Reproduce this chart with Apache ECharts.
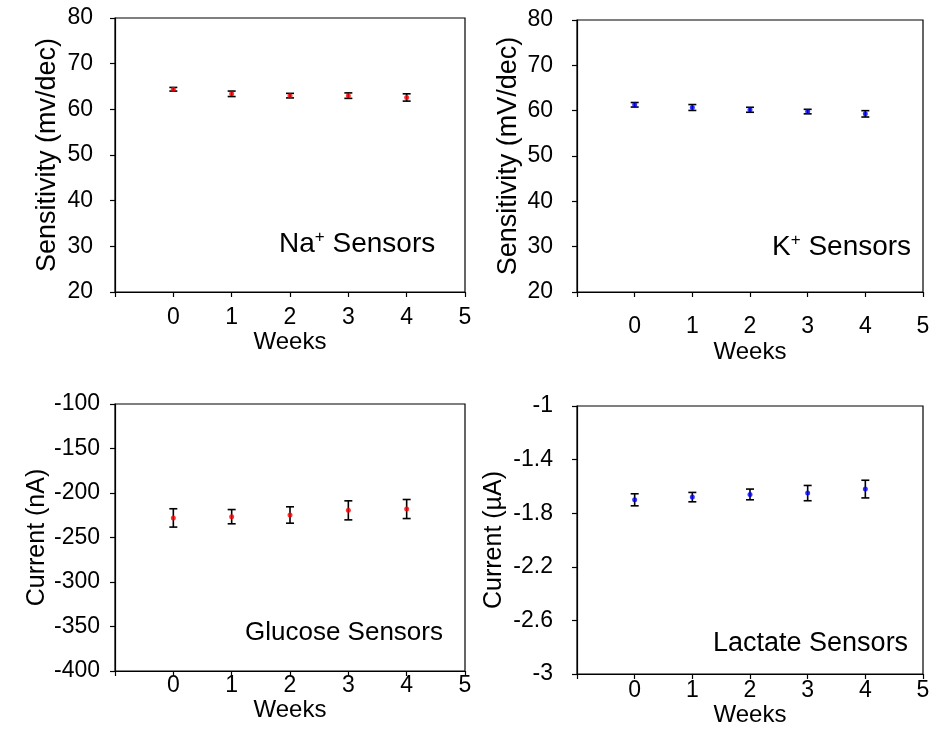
<!DOCTYPE html>
<html>
<head>
<meta charset="utf-8">
<script src="https://cdn.jsdelivr.net/npm/echarts@6/dist/echarts.min.js"></script>
<style>
  html, body { margin: 0; padding: 0; background: #fff; }
  #chart { width: 933px; height: 745px; }
</style>
</head>
<body>
<div id="chart"></div>
<script>
// Sensor stability over four weeks: mean response with standard-deviation bars
const weeks = [0, 1, 2, 3, 4];
const weekTicks = ['0', '1', '2', '3', '4', '5'];

const naMean = [64.4, 63.4, 63.0, 63.0, 62.6];
const naErr = [0.4, 0.6, 0.5, 0.6, 0.8];

const kMean = [61.3, 60.7, 60.2, 59.8, 59.3];
const kErr = [0.5, 0.65, 0.55, 0.5, 0.7];

const glucoseMean = [-228, -226.6, -224.7, -219.5, -218];
const glucoseErr = [10.3, 8, 9.2, 10.7, 10.7];

const lactateMean = [-1.70, -1.68, -1.66, -1.65, -1.62];
const lactateErr = [0.045, 0.035, 0.04, 0.057, 0.066];

const FONT = 'Liberation Sans, Arial, sans-serif';

const panels = [
  { mean: naMean, err: naErr, color: '#ff0000', yMin: 20, yMax: 80, yStep: 10,
    yName: 'Sensitivity (mv/dec)', yNameSize: 27,
    grid: { left: 115, top: 18, width: 350, height: 274 },
    xLabelMargin: 14, xNameGap: 34, yLabelMargin: 22, yNameGap: 54 },
  { mean: kMean, err: kErr, color: '#0000ff', yMin: 20, yMax: 80, yStep: 10,
    yName: 'Sensitivity (mV/dec)', yNameSize: 27,
    grid: { left: 577, top: 20, width: 346, height: 272 },
    xLabelMargin: 23, xNameGap: 48, yLabelMargin: 24, yNameGap: 55 },
  { mean: glucoseMean, err: glucoseErr, color: '#ff0000', yMin: -400, yMax: -100, yStep: 50,
    yName: 'Current (nA)', yNameSize: 25,
    grid: { left: 115, top: 404, width: 350, height: 267 },
    xLabelMargin: 3, xNameGap: 19, yLabelMargin: 15, yNameGap: 57 },
  { mean: lactateMean, err: lactateErr, color: '#0000ff', yMin: -3, yMax: -1, yStep: 0.4,
    yName: 'Current (\u00b5A)', yNameSize: 25,
    grid: { left: 577, top: 406, width: 346, height: 268 },
    xLabelMargin: 5, xNameGap: 28, yLabelMargin: 24, yNameGap: 70 }
];

const grids = [], xAxes = [], yAxes = [], series = [];

panels.forEach((p, i) => {
  grids.push(Object.assign({ show: true, borderColor: '#000', borderWidth: 1.2, backgroundColor: '#fff' }, p.grid));
  xAxes.push({
    gridIndex: i, type: 'value', min: -1, max: 5, interval: 1,
    name: 'Weeks', nameLocation: 'middle', nameGap: p.xNameGap,
    nameTextStyle: { color: '#000', fontSize: 24, fontFamily: FONT },
    axisLine: { show: true, onZero: false, lineStyle: { color: '#000', width: 1.2 } },
    axisTick: { show: true, inside: false, length: 5, lineStyle: { color: '#000', width: 1.2 } },
    axisLabel: { color: '#000', fontSize: 23, fontFamily: FONT, margin: p.xLabelMargin,
      formatter: v => (v >= 0 ? weekTicks[Math.round(v)] : '') },
    splitLine: { show: false }
  });
  yAxes.push({
    gridIndex: i, type: 'value', min: p.yMin, max: p.yMax, interval: p.yStep,
    name: p.yName, nameLocation: 'middle', nameGap: p.yNameGap,
    nameTextStyle: { color: '#000', fontSize: p.yNameSize, fontFamily: FONT },
    axisLine: { show: true, onZero: false, lineStyle: { color: '#000', width: 1.2 } },
    axisTick: { show: true, inside: false, length: 5, lineStyle: { color: '#000', width: 1.2 } },
    axisLabel: { color: '#000', fontSize: 23, fontFamily: FONT, margin: p.yLabelMargin,
      formatter: v => String(+(+v).toFixed(2)) },
    splitLine: { show: false }
  });

  const rows = weeks.map((w, k) => [w, p.mean[k], p.err[k]]);

  // error bars: vertical stem with a short cap at each end
  series.push({
    type: 'custom', xAxisIndex: i, yAxisIndex: i, data: rows, z: 2,
    renderItem: (params, api) => {
      const x = api.value(0), m = api.value(1), e = api.value(2);
      const top = api.coord([x, m + e]);
      const bot = api.coord([x, m - e]);
      const cap = 4;
      const style = { stroke: '#000', lineWidth: 1.6 };
      return {
        type: 'group',
        children: [
          { type: 'line', shape: { x1: top[0], y1: top[1], x2: bot[0], y2: bot[1] }, style },
          { type: 'line', shape: { x1: top[0] - cap, y1: top[1], x2: top[0] + cap, y2: top[1] }, style },
          { type: 'line', shape: { x1: bot[0] - cap, y1: bot[1], x2: bot[0] + cap, y2: bot[1] }, style }
        ]
      };
    }
  });
  // mean values
  series.push({
    type: 'scatter', xAxisIndex: i, yAxisIndex: i, z: 3,
    data: weeks.map((w, k) => [w, p.mean[k]]),
    symbol: 'circle', symbolSize: 5,
    itemStyle: { color: p.color }
  });
});

function sensorLabel(text, x, y, size) {
  const rich = {
    a: { fontSize: size, fontFamily: FONT, fill: '#000' },
    s: { fontSize: Math.round(size * 0.6), fontFamily: FONT, fill: '#000', verticalAlign: 'top', padding: [0, 0, Math.round(size * 0.5), 0] }
  };
  return { type: 'text', left: x, top: y, z: 10, style: { text, rich, font: size + 'px ' + FONT } };
}

const chart = echarts.init(document.getElementById('chart'), null, { renderer: 'canvas' });
chart.setOption({
  animation: false,
  backgroundColor: '#fff',
  grid: grids,
  xAxis: xAxes,
  yAxis: yAxes,
  series,
  graphic: [
    sensorLabel('{a|Na}{s|+}{a| Sensors}', 279, 229, 28),
    sensorLabel('{a|K}{s|+}{a| Sensors}', 772, 232, 28),
    sensorLabel('{a|Glucose Sensors}', 245, 620, 26),
    sensorLabel('{a|Lactate Sensors}', 713, 630, 27)
  ]
});
</script>
</body>
</html>
